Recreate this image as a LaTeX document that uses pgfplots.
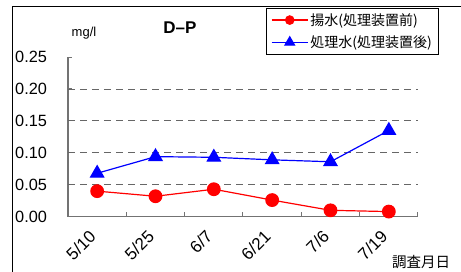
\documentclass[border=0pt]{standalone}
\usepackage{pgfplots}
\pgfplotsset{compat=1.18}
\usepackage{fontspec}
\setmainfont{Liberation Sans}
\newfontfamily\jp{Noto Sans CJK JP}
\begin{document}
\begin{tikzpicture}[x=1pt,y=1pt]
\useasboundingbox (0,0) rectangle (461,271);
\draw[line width=1pt] (12,-10) |- (475,264);
\begin{axis}[
  at={(68pt,54.3pt)}, anchor=south west, scale only axis,
  width=350pt, height=159.7pt,
  xmin=0, xmax=6, ymin=0, ymax=0.25,
  axis x line=bottom, axis y line=left,
  axis line style={-, line width=1.2pt, black!55},
  tick align=inside,
  xtick={0.5,1.5,2.5,3.5,4.5,5.5},
  xticklabels={5/10,5/25,6/7,6/21,7/6,7/19},
  major x tick style={draw=none},
  minor xtick={0,1,2,3,4,5,6},
  minor tick length=5pt,
  minor x tick style={black!55, line width=1pt},
  xticklabel style={xshift=-9pt, yshift=-12pt, rotate=45, anchor=north east, inner sep=0pt, font=\fontsize{17}{19}\selectfont},
  ytick={0,0.05,0.1,0.15,0.2,0.25},
  major tick length=4pt,
  major y tick style={black!55, line width=1pt},
  yticklabel style={anchor=west, inner sep=0pt, xshift=-53pt, font=\fontsize{16.3}{18}\selectfont,
    /pgf/number format/.cd, fixed, fixed zerofill, precision=2, assume math mode=true},
  extra y ticks={0.05,0.1,0.15,0.2},
  extra y tick labels={,,,},
  extra y tick style={grid=major, major tick length=0pt},
  major grid style={dash pattern=on 7pt off 5pt, black!60, line width=0.8pt},
  clip=false,
  legend style={at={(0.565,1.3068)}, anchor=north west, draw=black, line width=0.8pt,
    inner xsep=5pt, inner ysep=3pt, font=\jp\fontsize{14}{16}\selectfont, row sep=5pt,
    /tikz/every even column/.append style={column sep=3pt}},
  legend cell align=left,
]
\addplot[red, line width=1.2pt, mark=*, mark size=6.3pt, mark options={solid},
  legend image code/.code={\draw[red,line width=1.2pt] (0pt,0pt) -- (36pt,0pt); \fill[red] (18pt,0pt) circle (4.2pt);}]
  coordinates {(0.5,0.040) (1.5,0.032) (2.5,0.043) (3.5,0.026) (4.5,0.010) (5.5,0.008)};
\addlegendentry{揚水(処理装置前)}
\addplot[blue, line width=1.2pt, mark=triangle*, mark size=7.5pt, mark options={solid},
  legend image code/.code={\draw[blue,line width=1.2pt] (0pt,0pt) -- (36pt,0pt); \fill[blue] (18pt,0pt) ++(90:5.5pt) -- ++(-120:9.5pt) -- ++(0:9.5pt) -- cycle;}]
  coordinates {(0.5,0.068) (1.5,0.094) (2.5,0.093) (3.5,0.089) (4.5,0.086) (5.5,0.135)};
\addlegendentry{処理水(処理装置後)}
\end{axis}
\node[font=\fontsize{13}{14}\selectfont] at (84,238) {mg/l};
\node[font=\bfseries\fontsize{17}{19}\selectfont] at (180,243.5) {D–P};
\node[font=\jp\fontsize{14.5}{16}\selectfont] at (421,9) {調査月日};
\end{tikzpicture}
\end{document}
